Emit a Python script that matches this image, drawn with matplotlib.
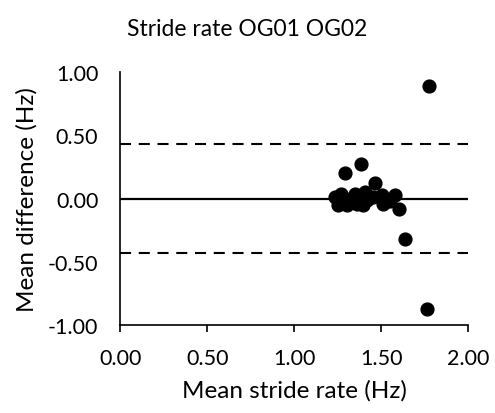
import matplotlib.pyplot as plt

plt.rcParams['font.family'] = ['Lato', 'DejaVu Sans']

# mean stride rate (Hz) and difference (Hz)
mean_rate = [1.776, 1.762, 1.639, 1.601, 1.381, 1.291, 1.465,
             1.233, 1.266, 1.253, 1.300, 1.349, 1.358, 1.406, 1.396,
             1.454, 1.502, 1.511, 1.578, 1.320, 1.420, 1.550]
mean_diff = [0.89, -0.87, -0.315, -0.079, 0.276, 0.20, 0.126,
             0.013, 0.04, -0.053, -0.053, 0.04, -0.04, 0.052, -0.053,
             0.013, 0.026, -0.04, 0.026, 0.0, -0.01, -0.02]
upper_loa = 0.43
lower_loa = -0.43

fig = plt.figure(figsize=(4.95, 4.14), dpi=100)
ax = fig.add_axes([0.2434, 0.2114, 0.7026, 0.613])

ax.axhline(0, color='black', lw=1.6, zorder=1)
ax.axhline(upper_loa, color='black', lw=1.5, dashes=(5.3, 3.7), zorder=1)
ax.axhline(lower_loa, color='black', lw=1.5, dashes=(5.3, 3.7), zorder=1)
ax.scatter(mean_rate, mean_diff, s=85, color='black', zorder=3, clip_on=False)

ax.set_xlim(0, 2)
ax.set_ylim(-1, 1)
ax.set_xticks([0, 0.5, 1.0, 1.5, 2.0])
ax.set_yticks([-1, -0.5, 0, 0.5, 1])
ax.set_xticklabels(['0.00', '0.50', '1.00', '1.50', '2.00'])
ax.set_yticklabels(['-1.00', '-0.50', '0.00', '0.50', '1.00'])

for s in ['top', 'right']:
    ax.spines[s].set_visible(False)
for s in ['left', 'bottom']:
    ax.spines[s].set_linewidth(1.2)
ax.tick_params(axis='x', direction='out', length=5, width=1.2, labelsize=15.5, pad=11)
ax.tick_params(axis='y', length=0, labelsize=15.5, pad=16)

ax.set_xlabel('Mean stride rate (Hz)', fontsize=17.5, labelpad=8)
ax.set_ylabel('Mean difference (Hz)', fontsize=17.5, labelpad=7)
fig.suptitle('Stride rate OG01 OG02', fontsize=16.5, x=0.5, y=0.955)

fig.savefig('out.png', dpi=100)
